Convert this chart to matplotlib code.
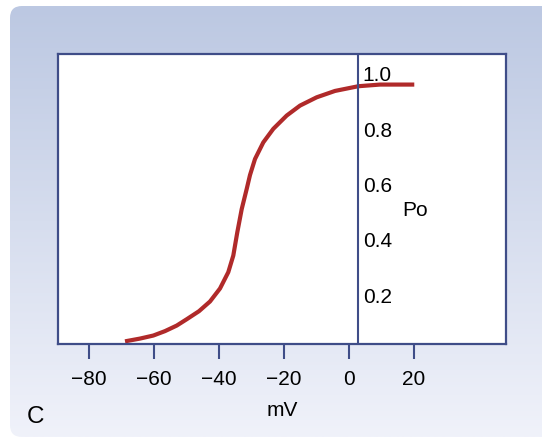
import matplotlib
matplotlib.use('Agg')
import matplotlib.pyplot as plt
import numpy as np
from matplotlib.patches import FancyBboxPatch

plt.rcParams['font.family'] = ['Liberation Sans', 'DejaVu Sans']

# open probability vs membrane potential
mv = [-68.83, -64.22, -60.12, -56.52, -52.92, -49.83, -46.06, -42.68,
      -39.60, -37.05, -35.51, -34.28, -32.92, -31.38, -30.37, -28.83,
      -26.28, -23.20, -19.08, -14.98, -9.85, -4.22, 2.95, 9.63, 20.18]
po = [0.037, 0.047, 0.058, 0.074, 0.094, 0.117, 0.146, 0.181,
      0.228, 0.287, 0.347, 0.431, 0.515, 0.588, 0.638, 0.696,
      0.756, 0.805, 0.853, 0.889, 0.919, 0.942, 0.959, 0.965, 0.965]

xticks = [-80, -60, -40, -20, 0, 20]
yticks = [0.2, 0.4, 0.6, 0.8, 1.0]
ylabels = ['0.2', '0.4', '0.6', '0.8', '1.0']
vline_mv = 3.0

navy = '#3f4d88'
red = '#b02a2a'

W, H = 542, 439
fig = plt.figure(figsize=(W / 100, H / 100), dpi=100)
fig.patch.set_facecolor('white')

# panel background with vertical gradient
bg = fig.add_axes([0, 0, 1, 1], zorder=0)
bg.set_xlim(0, W)
bg.set_ylim(H, 0)
bg.axis('off')
top = np.array([188, 200, 226]) / 255
bot = np.array([240, 242, 250]) / 255
t = np.linspace(0, 1, 256)[:, None]
grad = (top[None, :] * (1 - t) + bot[None, :] * t)[:, None, :]
im = bg.imshow(grad, extent=(10, W + 20, 438, 7), aspect='auto', interpolation='bilinear')
clip = FancyBboxPatch((10, 7), W + 20, 431, boxstyle='round,pad=0,rounding_size=12',
                      transform=bg.transData, facecolor='none', edgecolor='none')
bg.add_patch(clip)
im.set_clip_path(clip)

ax = fig.add_axes([58 / W, 1 - 344.7 / H, (505.5 - 58) / W, (344.7 - 55) / H], zorder=1)
ax.set_facecolor('white')
ax.plot(mv, po, color=red, lw=3, solid_capstyle='butt', solid_joinstyle='round')
ax.axvline(vline_mv, color=navy, lw=1.5)
ax.set_xlim(-89.45, 48.25)
ax.set_ylim(0.0285, 1.0755)

for s in ax.spines.values():
    s.set_color(navy)
    s.set_linewidth(1.6)

ax.set_xticks(xticks)
ax.set_xticklabels([f'\u2212{abs(v)}' if v < 0 else str(v) for v in xticks])
ax.tick_params(axis='x', direction='out', length=11, width=1.5, color=navy,
               labelsize=15, pad=7)
ax.set_yticks([])
ax.set_xlabel('mV', fontsize=15, labelpad=9)

for v, lab in zip(yticks, ylabels):
    ax.text(4.3, v, lab, ha='left', va='center', fontsize=15)
ax.text(20.5, 0.513, 'Po', ha='center', va='center', fontsize=15)

fig.text(35.5 / W, 1 - 417 / H, 'C', ha='center', va='center', fontsize=17.5)

fig.savefig('out.png', dpi=100)
